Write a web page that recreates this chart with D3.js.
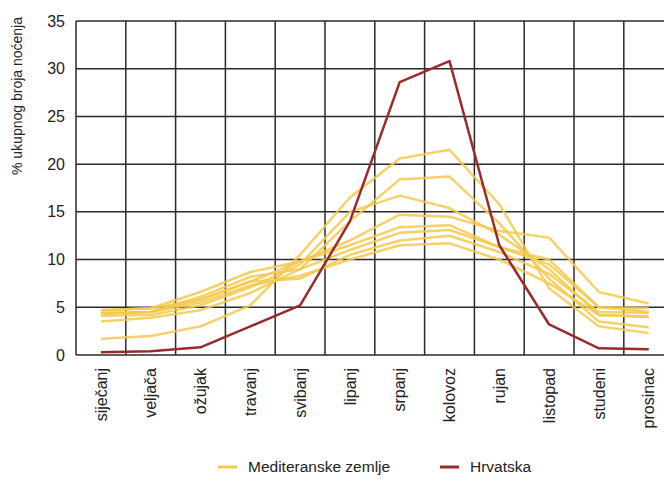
<!DOCTYPE html>
<html>
<head>
<meta charset="utf-8">
<script src="https://cdn.jsdelivr.net/npm/d3@7"></script>
<style>
  body { margin: 0; background: #fff; }
  svg { display: block; }
  text { font-family: "Liberation Sans Narrow", "Arial Narrow", "Liberation Sans", sans-serif; fill: #222; }
</style>
</head>
<body>
<div id="chart"></div>
<script>
// months (x categories)
var months = ['siječanj', 'veljača', 'ožujak', 'travanj', 'svibanj', 'lipanj',
  'srpanj', 'kolovoz', 'rujan', 'listopad', 'studeni', 'prosinac'];
var yTicks = [0, 5, 10, 15, 20, 25, 30, 35];

// Mediteranske zemlje - one array per country
var medA = [1.7, 2.0, 3.0, 5.2, 10.5, 16.5, 20.6, 21.5, 15.8, 7.0, 3.0, 2.3];
var medB = [3.5, 3.9, 4.7, 6.5, 9.0, 14.0, 18.4, 18.7, 13.8, 8.0, 3.5, 2.9];
var medC = [4.1, 4.2, 5.2, 7.1, 9.5, 15.0, 16.7, 15.4, 12.6, 9.0, 4.2, 4.0];
var medD = [4.4, 4.5, 5.8, 7.7, 9.8, 12.0, 14.7, 14.5, 13.0, 12.3, 6.6, 5.4];
var medE = [4.7, 4.9, 6.6, 8.7, 9.8, 11.5, 13.4, 13.6, 11.3, 10.0, 5.0, 4.9];
var medF = [4.4, 4.5, 6.1, 8.2, 9.0, 11.0, 12.8, 13.1, 11.3, 9.5, 5.0, 4.5];
var medG = [4.7, 4.9, 5.8, 7.7, 8.0, 10.5, 12.0, 12.5, 10.8, 8.5, 4.5, 4.4];
var medH = [4.3, 4.5, 5.5, 7.3, 8.3, 10.0, 11.5, 11.7, 10.0, 7.5, 4.2, 4.0];
var mediteran = [medA, medB, medC, medD, medE, medF, medG, medH];

// Hrvatska
var hrvatska = [0.3, 0.4, 0.8, 3.0, 5.2, 14.0, 28.6, 30.8, 11.5, 3.2, 0.7, 0.6];

var width = 664, height = 479;
var margin = { top: 21, left: 76 };
var plotW = 49.8 * 12, plotH = 334;

var svg = d3.select('#chart').append('svg')
  .attr('width', width)
  .attr('height', height);

var x = d3.scaleBand()
  .domain(months)
  .range([margin.left, margin.left + plotW]);
var y = d3.scaleLinear()
  .domain([0, 35])
  .range([margin.top + plotH, margin.top]);

// grid
var grid = svg.append('g').attr('class', 'grid');
grid.selectAll('line.h')
  .data(yTicks)
  .enter().append('line')
  .attr('class', 'h')
  .attr('x1', margin.left)
  .attr('x2', margin.left + plotW)
  .attr('y1', function(d) { return y(d); })
  .attr('y2', function(d) { return y(d); })
  .attr('stroke', '#2a2a2a')
  .attr('stroke-width', 1.5);
grid.selectAll('line.v')
  .data(months.concat(['end']))
  .enter().append('line')
  .attr('class', 'v')
  .attr('x1', function(d, i) { return margin.left + i * x.bandwidth(); })
  .attr('x2', function(d, i) { return margin.left + i * x.bandwidth(); })
  .attr('y1', y(35))
  .attr('y2', y(0))
  .attr('stroke', '#2a2a2a')
  .attr('stroke-width', 1.5);

// y axis labels
var yAxis = d3.axisLeft(y).tickValues(yTicks).tickSize(0).tickPadding(11);
svg.append('g')
  .attr('transform', 'translate(' + margin.left + ',0)')
  .call(yAxis)
  .call(function(g) { g.select('.domain').remove(); })
  .selectAll('text')
  .style('font-size', '16px')
  .style('font-family', null)
  .attr('fill', '#222');

svg.append('text')
  .attr('transform', 'translate(22,96) rotate(-90)')
  .attr('text-anchor', 'middle')
  .style('font-size', '14px')
  .text('% ukupnog broja noćenja');

// x axis labels, rotated
var xAxis = d3.axisBottom(x).tickSize(0).tickPadding(0);
svg.append('g')
  .attr('transform', 'translate(0,' + (y(0) + 13) + ')')
  .call(xAxis)
  .call(function(g) { g.select('.domain').remove(); })
  .selectAll('text')
  .attr('transform', 'rotate(-90)')
  .attr('text-anchor', 'end')
  .attr('x', 0)
  .attr('y', 0)
  .attr('dy', '0.35em')
  .style('font-size', '16px')
  .style('font-family', null)
  .attr('fill', '#222');

// lines
var line = d3.line()
  .x(function(d, i) { return x(months[i]) + x.bandwidth() / 2; })
  .y(function(d) { return y(d); });

svg.append('g').selectAll('path')
  .data(mediteran)
  .enter().append('path')
  .attr('d', line)
  .attr('fill', 'none')
  .attr('stroke', '#f3c94e')
  .attr('stroke-opacity', 0.85)
  .attr('stroke-width', 2.5)
  .attr('stroke-linejoin', 'round');

svg.append('path')
  .datum(hrvatska)
  .attr('d', line)
  .attr('fill', 'none')
  .attr('stroke', '#9b2b2b')
  .attr('stroke-width', 2.5)
  .attr('stroke-linejoin', 'round');

// legend
var legend = [
  { label: 'Mediteranske zemlje', color: '#f3c94e', x: 218 },
  { label: 'Hrvatska', color: '#9b2b2b', x: 440 }
];
var lg = svg.append('g').selectAll('g')
  .data(legend)
  .enter().append('g')
  .attr('transform', function(d) { return 'translate(' + d.x + ',467)'; });
lg.append('line')
  .attr('x1', 0).attr('x2', 19)
  .attr('stroke', function(d) { return d.color; })
  .attr('stroke-width', 3);
lg.append('text')
  .attr('x', 30)
  .attr('dy', '0.35em')
  .style('font-size', '15.5px')
  .text(function(d) { return d.label; });
</script>
</body>
</html>
